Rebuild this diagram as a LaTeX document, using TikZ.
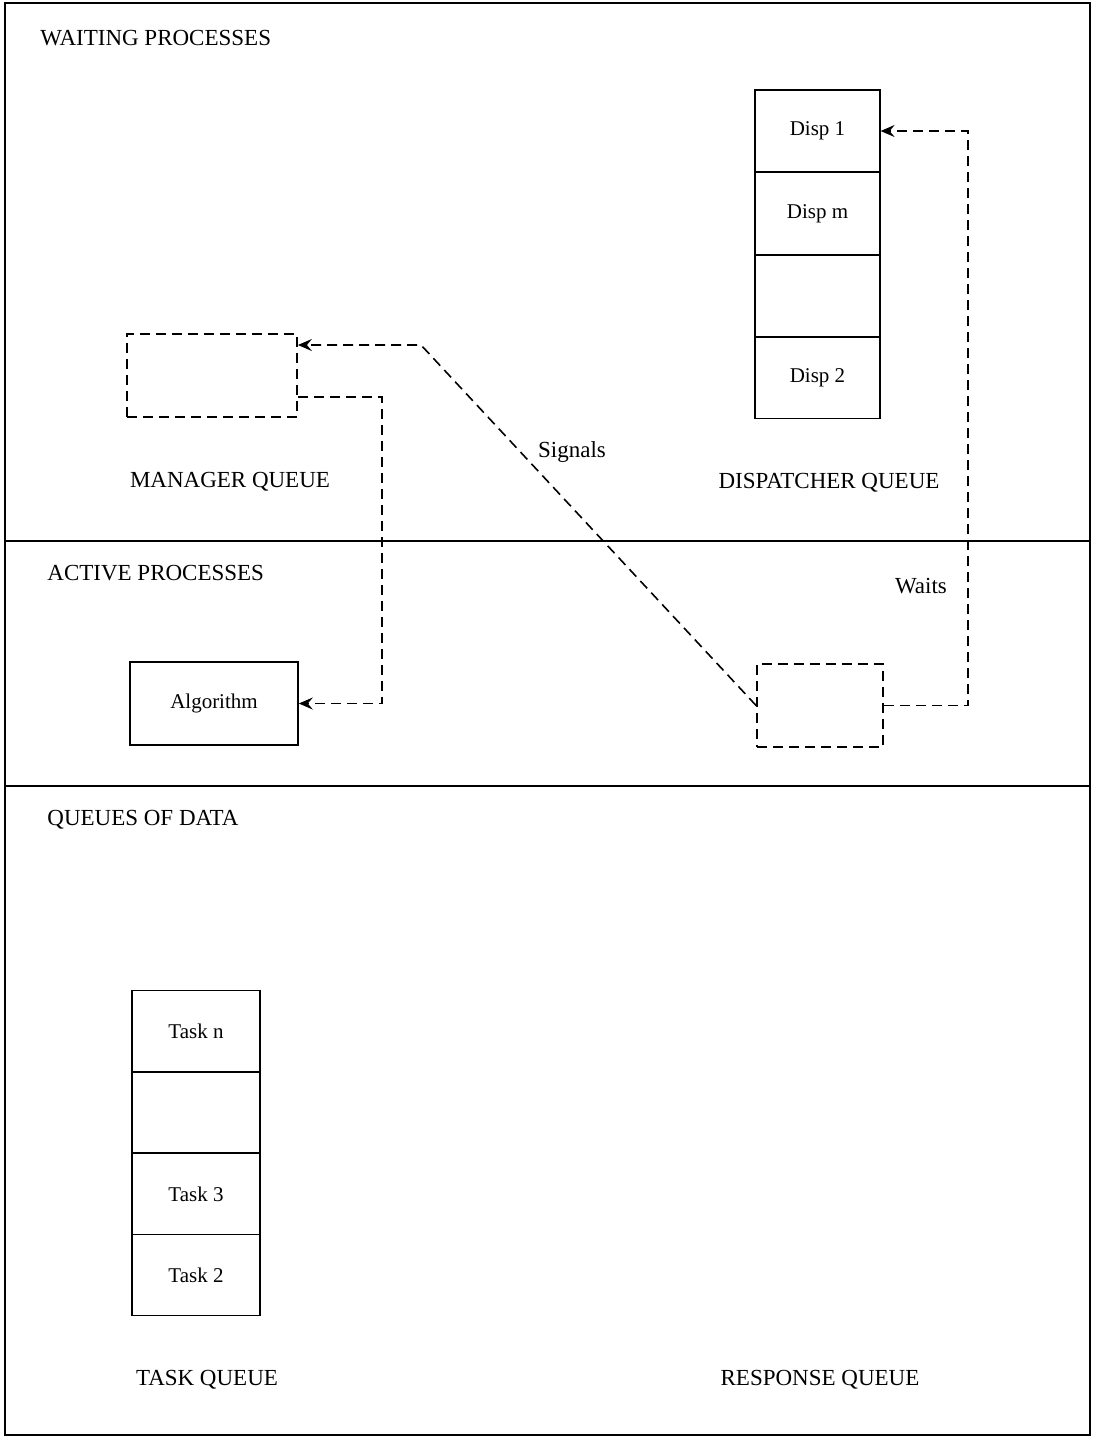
\documentclass[tikz,border=0pt]{standalone}
\usepackage{fontspec}
\setmainfont{Liberation Serif}
\usetikzlibrary{arrows.meta}
\begin{document}
\begin{tikzpicture}[x=0.5pt,y=-0.5pt,
  lbl/.style={font=\fontsize{11.5}{14}\selectfont, inner sep=0pt},
  cell/.style={draw, line width=0.6pt, minimum width=62.5pt, minimum height=41pt, inner sep=0pt, font=\fontsize{10.5}{13}\selectfont},
  tcell/.style={draw, line width=0.6pt, minimum width=64pt, minimum height=40.5pt, inner sep=0pt, font=\fontsize{10.5}{13}\selectfont},
  dbox/.style={draw, line width=0.9pt, dash pattern=on 5pt off 3pt, inner sep=0pt},
  dl/.style={line width=0.8pt, dash pattern=on 5pt off 3pt},
  tip/.style={-{Stealth[length=7pt,width=6pt,inset=2.5pt]}}]
\useasboundingbox (0,0) rectangle (1093,1437);
% frame and separators
\draw[line width=0.8pt] (5,3) rectangle (1090,1435);
\draw[line width=0.8pt] (5,541) -- (1090,541);
\draw[line width=0.8pt] (5,786) -- (1090,786);
% section labels
\node[lbl, anchor=west] (wp) at (40,38) {WAITING PROCESSES};
\node[lbl, anchor=west] (ap) at (47,573) {ACTIVE PROCESSES};
\node[lbl, anchor=west] (qd) at (47,820) {QUEUES OF DATA};
% dispatcher queue
\node[cell] (d1) at (817.5,131) {Disp 1};
\node[cell] (dm) at (817.5,213.5) {Disp m};
\node[cell] (de) at (817.5,296) {};
\node[cell] (d2) at (817.5,377.5) {Disp 2};
\node[lbl] (dq) at (829,483) {DISPATCHER QUEUE};
% manager queue
\node[dbox, minimum width=85pt, minimum height=41.5pt] (mgr) at (212,375.5) {};
\node[lbl] (mq) at (230,482) {MANAGER QUEUE};
% active processes
\node[draw, line width=0.8pt, minimum width=84pt, minimum height=41.5pt, inner sep=0pt, font=\fontsize{10.5}{13}\selectfont] (alg) at (214,703.5) {Algorithm};
\node[dbox, minimum width=63pt, minimum height=41.5pt] (act) at (820,705.5) {};
% task queue
\node[tcell] (tn) at (196,1031) {Task n};
\node[tcell] (te) at (196,1112.5) {};
\node[tcell] (t3) at (196,1194) {Task 3};
\node[tcell] (t2) at (196,1275) {Task 2};
\node[lbl] (tq) at (207,1380) {TASK QUEUE};
\node[lbl] (rq) at (820,1380) {RESPONSE QUEUE};
% connectors
\coordinate (sc) at (421,345);
\draw[dl,tip] (act.west) -- (sc) -- (sc -| mgr.east);
\node[lbl] (sig) at (572,452) {Signals};
\coordinate (mc) at (382,397);
\draw[dl,tip] (mc -| mgr.east) -- (mc) -- (mc |- alg.east) -- (alg.east);
\coordinate (wc) at (968,131);
\draw[dl,tip] (act.east) -- (act.east -| wc) -- (wc) -- (d1.east);
\node[lbl] (wt) at (921,586) {Waits};
\end{tikzpicture}
\end{document}
